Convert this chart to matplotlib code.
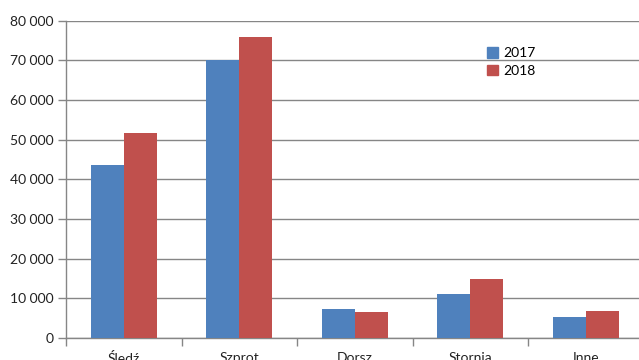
import matplotlib
matplotlib.use("Agg")
import matplotlib.pyplot as plt
import numpy as np
from matplotlib.patches import Patch

categories = ["Śledź", "Szprot", "Dorsz", "Stornia", "Inne"]
years = ["2017", "2018"]
values_2017 = [43500, 70000, 7300, 11100, 5300]
values_2018 = [51600, 75800, 6500, 14800, 6800]
yticks = [0, 10000, 20000, 30000, 40000, 50000, 60000, 70000, 80000]

blue = "#4F81BD"
red = "#C0504D"
grey = "#868686"

plt.rcParams["font.family"] = ["Lato", "DejaVu Sans"]

fig = plt.figure(figsize=(6.39, 3.6), dpi=100)
ax = fig.add_axes([66 / 639, 22 / 360, 577.5 / 639, 317.3 / 360])

x = np.arange(len(categories))
w = 0.2857
ax.bar(x - w / 2, values_2017, w, color=blue, zorder=3)
ax.bar(x + w / 2, values_2018, w, color=red, zorder=3)

ax.set_xlim(-0.5, len(categories) - 0.5)
ax.set_ylim(0, 80000)
ax.set_yticks(yticks)
ax.set_yticklabels([f"{v:,}".replace(",", " ") for v in yticks], fontsize=10, color="#222222")
ax.yaxis.grid(True, color=grey, linewidth=1, zorder=0)

ax.set_xticks(x)
ax.set_xticklabels(categories, fontsize=10, color="#222222")
ax.tick_params(axis="x", which="major", length=0, pad=10)
ax.set_xticks(np.arange(-0.5, len(categories), 1), minor=True)
ax.tick_params(axis="x", which="minor", length=6, color=grey, width=1)
ax.tick_params(axis="y", length=6, color=grey, width=1, pad=3)

for side in ["top", "right"]:
    ax.spines[side].set_visible(False)
for side in ["left", "bottom"]:
    ax.spines[side].set_color(grey)
    ax.spines[side].set_linewidth(1)

handles = [Patch(color=blue), Patch(color=red)]
fig.legend(handles, years, loc="upper left", bbox_to_anchor=(480 / 639, 1 - 40 / 360),
           frameon=False, fontsize=10, handlelength=0.8, handleheight=0.8,
           handletextpad=0.4, labelspacing=0.4, borderpad=0)

fig.savefig("out.png", dpi=100)
